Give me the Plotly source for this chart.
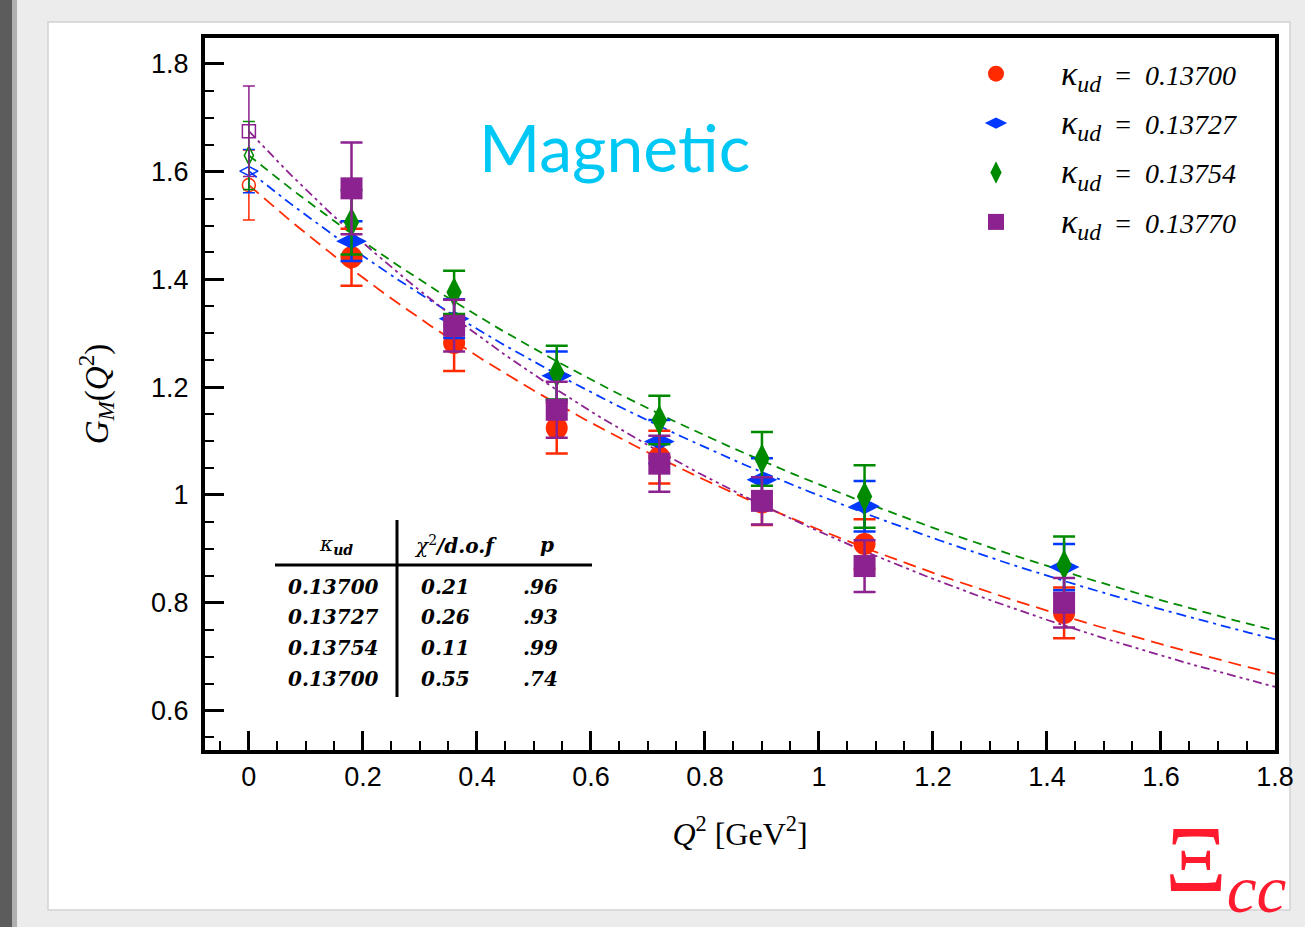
import numpy as np
import plotly.graph_objects as go

# ---------------- data ----------------
kappa_labels = ["0.13700", "0.13727", "0.13754", "0.13770"]
colors = ["#ff2a00", "#0038ff", "#008a00", "#8c2190"]
symbols = ["circle", "diamond-wide", "diamond-tall", "square"]
open_symbols = ["circle-open", "diamond-wide-open", "diamond-tall-open", "square-open"]
dashes = ["13px,7px", "10px,5px,3px,5px", "9px,6px", "9px,4px,3px,4px,3px,4px"]

q2 = [0.18, 0.36, 0.54, 0.72, 0.90, 1.08, 1.43]
q2_zero = [0.0]

g_red = [1.441, 1.282, 1.124, 1.070, 0.986, 0.909, 0.781]
e_red = [0.053, 0.052, 0.047, 0.049, 0.042, 0.046, 0.047]
g_blue = [1.471, 1.327, 1.221, 1.099, 1.028, 0.979, 0.866]
e_blue = [0.037, 0.036, 0.045, 0.040, 0.040, 0.047, 0.043]
g_green = [1.506, 1.376, 1.227, 1.139, 1.067, 0.997, 0.870]
e_green = [0.060, 0.040, 0.050, 0.045, 0.050, 0.058, 0.053]
g_purple = [1.569, 1.314, 1.158, 1.058, 0.989, 0.868, 0.800]
e_purple = [0.085, 0.048, 0.052, 0.052, 0.044, 0.048, 0.046]

g0_vals = [1.575, 1.601, 1.630, 1.675]
g0_errs = [0.065, 0.040, 0.063, 0.084]

# dipole fit parameters: G(0) and Lambda^2
fit_g0 = [1.575, 1.601, 1.630, 1.675]
fit_lam2 = [3.361, 3.759, 3.780, 2.937]

table_kappa = ["0.13700", "0.13727", "0.13754", "0.13700"]
table_chi2 = ["0.21", "0.26", "0.11", "0.55"]
table_p = [".96", ".93", ".99", ".74"]

x_ticks = [0, 0.2, 0.4, 0.6, 0.8, 1.0, 1.2, 1.4, 1.6, 1.8]
x_ticktext = ["0", "0.2", "0.4", "0.6", "0.8", "1", "1.2", "1.4", "1.6", "1.8"]
y_ticks = [0.6, 0.8, 1.0, 1.2, 1.4, 1.6, 1.8]
y_ticktext = ["0.6", "0.8", "1", "1.2", "1.4", "1.6", "1.8"]

series_g = [g_red, g_blue, g_green, g_purple]
series_e = [e_red, e_blue, e_green, e_purple]

fig = go.Figure()

# fit curves
q_fine = np.linspace(0.0, 1.8, 200)
for i in range(4):
    fig.add_trace(go.Scatter(
        x=q_fine, y=fit_g0[i] / (1 + q_fine / fit_lam2[i]) ** 2,
        mode="lines", line=dict(color=colors[i], width=1.8, dash=dashes[i]),
        showlegend=False, hoverinfo="skip"))

# zero-Q^2 open points
for i in range(4):
    fig.add_trace(go.Scatter(
        x=q2_zero, y=[g0_vals[i]], mode="markers",
        marker=dict(symbol=open_symbols[i], size=13, color=colors[i],
                    line=dict(width=1.5, color=colors[i])),
        error_y=dict(type="data", array=[g0_errs[i]], color=colors[i],
                     thickness=1.5, width=6),
        showlegend=False))

# lattice points
for i in range(4):
    fig.add_trace(go.Scatter(
        x=q2, y=series_g[i], mode="markers",
        name=("<span style='font-size:34px'><i>κ</i><sub><i>ud</i></sub></span>"
              "\u00a0\u00a0=\u00a0\u00a0<i>" + kappa_labels[i] + "</i>"),
        legendgroup="g%d" % i,
        marker=dict(symbol=symbols[i], size=22, color=colors[i], line=dict(width=0)),
        error_y=dict(type="data", array=series_e[i], color=colors[i],
                     thickness=2.5, width=11)))

# ---------------- layout ----------------
L, R, T, B = 205, 30, 38, 177
W, H = 1305, 927
pw, ph = W - L - R, H - T - B


def px(xp):
    return (xp - L) / pw


def py(yp):
    return (H - B - yp) / ph


shapes = [
    # slide background panel
    dict(type="rect", xref="paper", yref="paper", x0=px(48), x1=px(1290),
         y0=py(910), y1=py(22), fillcolor="white",
         line=dict(color="#d2d2d2", width=1.5), layer="below"),
    # left dark strip
    dict(type="rect", xref="paper", yref="paper", x0=px(-5), x1=px(12),
         y0=py(940), y1=py(-10), fillcolor="#5c5c5c", line=dict(width=0),
         layer="below"),
    dict(type="rect", xref="paper", yref="paper", x0=px(12), x1=px(17),
         y0=py(940), y1=py(-10), fillcolor="#b0b0b0", line=dict(width=0),
         layer="below"),
    # table rules
    dict(type="line", xref="paper", yref="paper", x0=px(397), x1=px(397),
         y0=py(697), y1=py(520), line=dict(color="black", width=3)),
    dict(type="line", xref="paper", yref="paper", x0=px(275), x1=px(592),
         y0=py(565), y1=py(565), line=dict(color="black", width=3)),
]

tfont = dict(family="DejaVu Serif", size=20, color="black")


def ann(text, x, y, font):
    return dict(text=text, xref="paper", yref="paper", x=px(x), y=py(y),
                xanchor="center", yanchor="middle", showarrow=False, font=font)


annotations = [
    ann("Magne\u200ctic", 614, 147, dict(family="Lato", size=66, color="#00c8f5")),
    dict(text="Ξ<sub><i>cc</i></sub>", xref="paper", yref="paper",
         x=px(1163), y=py(866), xanchor="left", yanchor="middle", showarrow=False,
         font=dict(family="Liberation Serif", size=96, color="#ff1a2e")),
    ann("<i>κ</i><sub><b><i>ud</i></b></sub>", 336, 545, tfont),
    ann("<i>χ</i><sup>2</sup><b><i>/d.o.f</i></b>", 455, 545, tfont),
    ann("<b><i>p</i></b>", 547, 545, tfont),
]
row_y = [587, 617, 648, 679]
for r in range(4):
    annotations.append(ann("<b><i>" + table_kappa[r] + "</i></b>", 333, row_y[r], tfont))
    annotations.append(ann("<b><i>" + table_chi2[r] + "</i></b>", 445, row_y[r], tfont))
    annotations.append(ann("<b><i>" + table_p[r] + "</i></b>", 540, row_y[r], tfont))

axis_common = dict(
    showline=True, mirror=True, linecolor="black", linewidth=4,
    ticks="inside", ticklen=19, tickwidth=3, tickcolor="black",
    showgrid=False, zeroline=False,
    tickfont=dict(family="Liberation Sans", size=27, color="black"),
    minor=dict(ticks="inside", ticklen=9, tickwidth=2, tickcolor="black",
               dtick=0.05, showgrid=False),
)

fig.update_layout(
    width=W, height=H,
    margin=dict(l=L, r=R, t=T, b=B),
    paper_bgcolor="#ececec", plot_bgcolor="white",
    shapes=shapes, annotations=annotations,
    xaxis=dict(range=[-0.077, 1.8], tickvals=x_ticks, ticktext=x_ticktext,
               title=dict(text="<i>Q</i><sup>2</sup> [GeV<sup>2</sup>]", standoff=32,
                          font=dict(family="Liberation Serif", size=32, color="black")),
               **axis_common),
    yaxis=dict(range=[0.5266, 1.848], tickvals=y_ticks, ticktext=y_ticktext,
               ticklabelstandoff=7,
               title=dict(text="<i>G</i><sub><i>M</i></sub>(<i>Q</i><sup>2</sup>)", standoff=34,
                          font=dict(family="Liberation Serif", size=33, color="black")),
               **axis_common),
    legend=dict(x=px(931), y=py(49), xanchor="left", yanchor="top",
                bgcolor="rgba(0,0,0,0)", itemwidth=120, tracegroupgap=10,
                font=dict(family="Liberation Serif", size=28, color="black")),
)

fig.write_html("out.html", config={"displayModeBar": False},
               post_script="document.body.style.margin='0px';")
